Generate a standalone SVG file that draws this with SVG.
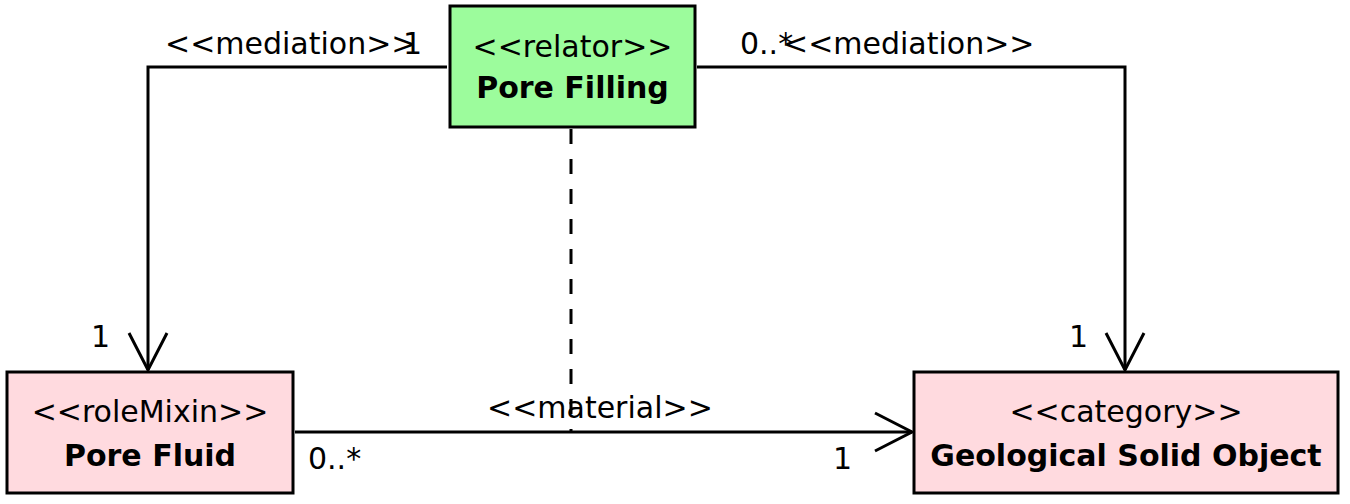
<svg xmlns="http://www.w3.org/2000/svg" width="1350" height="504" viewBox="0 0 1350 504">
<style>
.box{stroke:#000;stroke-width:3}
.relator{fill:#9cfc9c}
.pink{fill:#ffdadf}
.t{font-family:"DejaVu Sans","Liberation Sans",sans-serif;font-size:30px;fill:#000}
.b{font-weight:bold}
.c{text-anchor:middle}
.ln{fill:none;stroke:#000;stroke-width:3}
.dash{stroke-dasharray:15 15}
</style>
<defs>
<marker id="open" markerUnits="userSpaceOnUse" markerWidth="44" markerHeight="44" viewBox="-40 -22 44 44" refX="0" refY="0" orient="auto">
<path d="M-37,-19 L0,0 L-37,19" fill="none" stroke="#000" stroke-width="3"/>
</marker>
</defs>
<rect width="1350" height="504" fill="#fff"/>
<g id="connectors">
<path class="ln" d="M447,67 L148,67 L148,370" marker-end="url(#open)"/>
<path class="ln" d="M697,67 L1125,67 L1125,370" marker-end="url(#open)"/>
<path class="ln" d="M295,432 L912,432" marker-end="url(#open)"/>
<path class="ln dash" d="M571,129 L571,432"/>
<text class="t" x="165" y="54">&lt;&lt;mediation&gt;&gt;</text>
<text class="t" x="403" y="54">1</text>
<text class="t" x="740" y="54">0..*</text>
<text class="t" x="783" y="54">&lt;&lt;mediation&gt;&gt;</text>
<text class="t" x="91" y="347">1</text>
<text class="t" x="1069" y="347">1</text>
<text class="t" x="487" y="418">&lt;&lt;material&gt;&gt;</text>
<text class="t" x="308" y="469">0..*</text>
<text class="t" x="833" y="469">1</text>
</g>
<g id="pore-filling">
<rect class="box relator" x="450" y="6" width="245" height="121"/>
<text class="t c" x="572.5" y="57">&lt;&lt;relator&gt;&gt;</text>
<text class="t b c" x="572.5" y="98">Pore Filling</text>
</g>
<g id="pore-fluid">
<rect class="box pink" x="7" y="372" width="286" height="121"/>
<text class="t c" x="150" y="422">&lt;&lt;roleMixin&gt;&gt;</text>
<text class="t b c" x="150" y="466">Pore Fluid</text>
</g>
<g id="geological-solid-object">
<rect class="box pink" x="914" y="372" width="424" height="121"/>
<text class="t c" x="1126" y="422">&lt;&lt;category&gt;&gt;</text>
<text class="t b c" x="1126" y="466">Geological Solid Object</text>
</g>
</svg>
